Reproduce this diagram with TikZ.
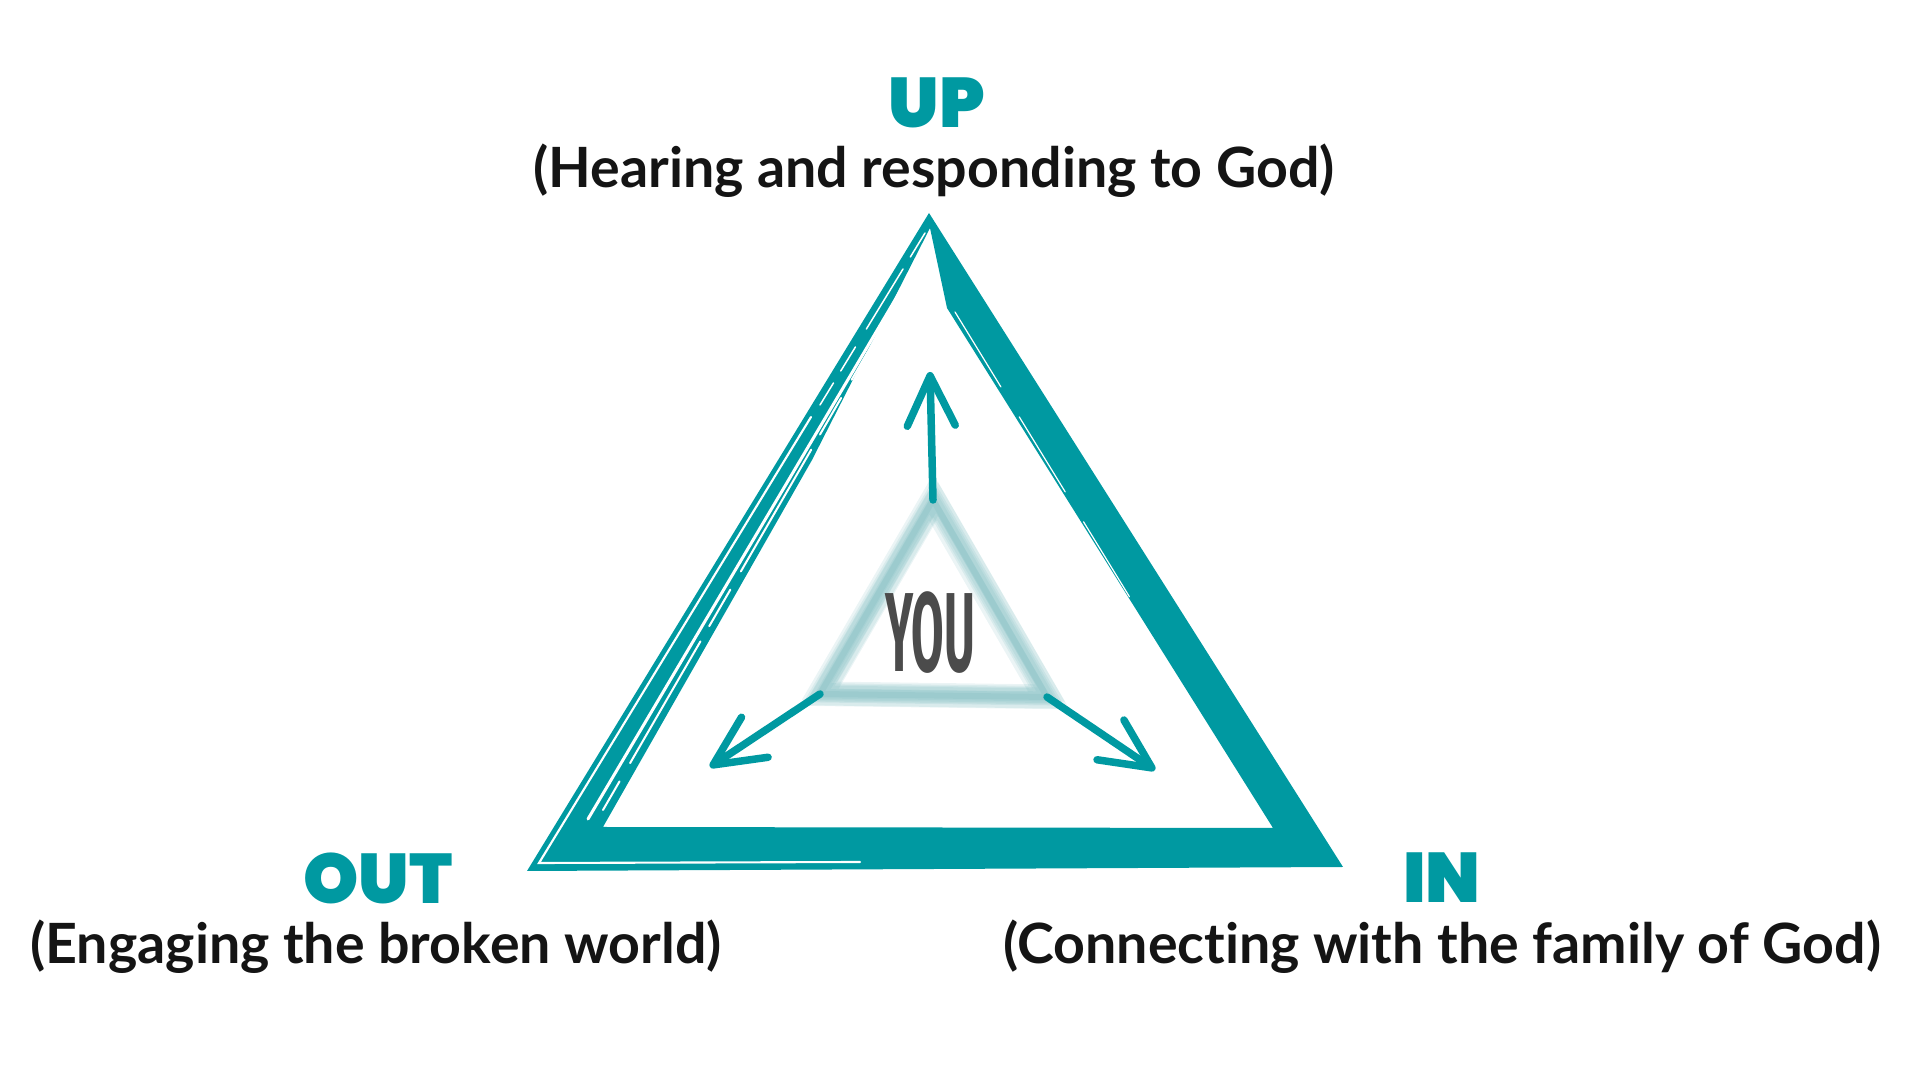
\documentclass[tikz,border=0pt]{standalone}
\usepackage{fontspec}
\setmainfont{Lato}[Ligatures=NoCommon]
\newfontfamily\headfont{Poppins Black}
\newfontfamily\youfont{Fira Sans}
\usetikzlibrary{arrows.meta,calc}
\definecolor{brandteal}{HTML}{0099A1}
\definecolor{softteal}{HTML}{62ADB2}
\definecolor{yougray}{HTML}{4B4B4B}

\tikzset{
  head/.style={text=brandteal, inner sep=0pt, font=\headfont\fontsize{20pt}{20pt}\selectfont},
  sub/.style={text=black!92, inner sep=0pt, font=\bfseries\fontsize{15.8pt}{16pt}\selectfont},
  soft/.style={draw=softteal, line join=miter},
  gap/.style={draw=white, line cap=round},
  push/.style={draw=brandteal, line width=0.075cm, line cap=round, -{Straight Barb[length=5mm,width=4.8mm,round]}},
}

\begin{document}
\begin{tikzpicture}
\useasboundingbox (0,0) rectangle (19.2,10.8);

\coordinate (top) at (9.29,8.67);
\coordinate (left) at (5.27,2.09);
\coordinate (right) at (13.43,2.13);
\coordinate (top-in) at (9.30,8.52);
\coordinate (left-in) at (6.03,2.53);
\coordinate (right-in) at (12.73,2.52);

\fill[brandteal, even odd rule] (top) -- (right) -- (left) -- cycle
  (top-in) -- (9.47,7.72) -- (right-in) -- (left-in) -- (8.12,6.20) -- cycle;
\draw[gap, line width=0.6pt] (8.11,6.63) -- (5.39,2.17) -- (8.60,2.18);
\draw[gap, line width=0.03cm] (9.14,8.12) -- (5.88,2.61);
\draw[gap, line width=0.02cm, dash pattern=on 40pt off 6pt on 12pt off 5pt] (9.22,8.22) -- (6.03,2.70);
\draw[gap, line width=0.015cm, dash pattern=on 8pt off 4pt on 20pt off 6pt] (9.25,8.47) -- (8.20,6.75);
\draw[gap, line width=0.012cm, dash pattern=on 25pt off 10pt] (9.55,7.68) -- (11.40,4.66);

\coordinate (you-top) at (9.33,5.80);
\coordinate (you-left) at (8.20,3.86);
\coordinate (you-right) at (10.47,3.83);
\foreach \dx/\dy in {0/0, 0.04/-0.03, -0.035/0.025, 0.03/0.04, -0.04/-0.035, 0.05/0.01}
  \draw[soft, line width=0.17cm, opacity=0.13]
    ($(you-top)+(\dx,\dy)$) -- ($(you-left)+(\dx,\dy)$) -- ($(you-right)+(\dx,\dy)$) -- cycle;
\draw[soft, line width=0.06cm, opacity=0.15] (you-top) -- (you-left) -- (you-right) -- cycle;

\node[text=yougray, font=\youfont\bfseries\fontsize{32pt}{32pt}\selectfont] (you) at (9.30,4.47) {\scalebox{0.42}[1]{YOU}};

\coordinate (up-tip) at (9.30,7.08);
\coordinate (out-tip) at (7.10,3.13);
\coordinate (in-tip) at (11.55,3.10);
\draw[push] (you-top) -- (up-tip);
\draw[push] (you-left) -- (out-tip);
\draw[push] (you-right) -- (in-tip);

\node[head] (up) at (9.37,9.77) {UP};
\node[sub] (up-sub) at (9.34,9.09) {(Hearing and responding to God)};
\node[head] (out) at (3.78,2.02) {OUT};
\node[sub] (out-sub) at (3.76,1.33) {(Engaging the broken world)};
\node[head] (in) at (14.42,2.02) {IN};
\node[sub] (in-sub) at (14.42,1.33) {(Connecting with the family of God)};
\end{tikzpicture}
\end{document}
